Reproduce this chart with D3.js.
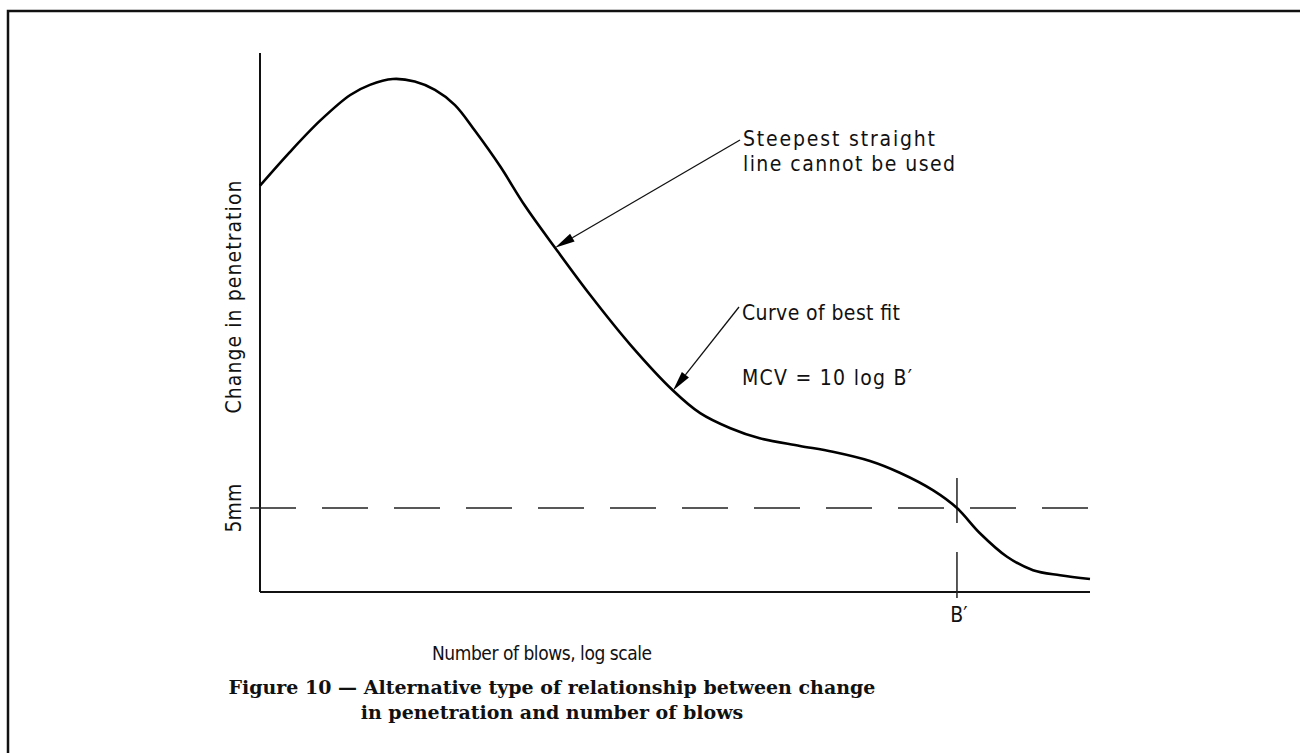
<!DOCTYPE html>
<html lang="en">

<head>
  <meta charset="UTF-8">
  <title>Figure 10</title>
  <script src="https://cdn.jsdelivr.net/npm/d3@7/dist/d3.min.js"></script>
  <style>
    body {
      margin: 0;
      background-color: #fff;
    }

    svg {
      display: block;
    }

    .tech {
      font-family: 'DejaVu Sans Condensed', 'DejaVu Sans', sans-serif;
      font-stretch: condensed;
      font-size: 21px;
      fill: #111;
    }

    .caption {
      font-family: 'DejaVu Serif', 'Liberation Serif', serif;
      font-weight: bold;
      font-size: 19px;
      fill: #111;
    }
  </style>
</head>

<body>
  <svg width="1300" height="753"></svg>
  <script>
    // curve of best fit (x is log scale)
    const blows = [1, 1.18, 1.4, 1.65, 1.84, 2.09, 2.36, 2.64, 2.95, 3.3, 3.79, 4.35, 5.14, 6.24,
      7.79, 9.89, 11.5, 13.6, 16.0, 20.0, 24.0, 29.5, 34.8, 41.9, 47.8, 54.3, 63.1, 72.9, 84.7, 100];
    const penetration = [24.2, 26.2, 28.1, 29.6, 30.2, 30.55, 30.4, 29.9, 29.0, 27.45, 25.35, 23.0, 20.5, 17.7,
      14.75, 12.0, 10.65, 9.75, 9.15, 8.7, 8.35, 7.8, 7.1, 6.05, 5.0, 3.5, 2.1, 1.3, 1.0, 0.77];

    const refPenetration = 5;      // mm
    const bPrime = 47.8;           // blows at 5 mm
    const xLabel = "Number of blows, log scale";
    const yLabel = "Change in penetration";
    const refLabel = "5mm";
    const bLabel = "B\u2032";
    const noteSteep = ["Steepest straight", "line cannot be used"];
    const noteFit = ["Curve of best fit"];
    const formula = "MCV = 10 log B\u2032";
    const steepIndex = 12;   // point the first arrow touches
    const fitIndex = 15;     // point the second arrow touches
    const captionLines = ["Figure 10 \u2014  Alternative type of relationship between change",
      "in penetration and number of blows"];

    const data = blows.map((b, i) => ({ b: b, p: penetration[i] }));

    const svg = d3.select("svg");

    const x = d3.scaleLog().domain([1, 100]).range([260, 1090]);
    const y = d3.scaleLinear().domain([0, 32.1]).range([592, 53]);

    // page frame
    svg.append("path")
      .attr("d", "M8,760V11H1310")
      .attr("fill", "none")
      .attr("stroke", "#111")
      .attr("stroke-width", 2.5);

    // axes
    svg.append("line")
      .attr("x1", x(1)).attr("x2", x(1))
      .attr("y1", y(32.1)).attr("y2", y(0))
      .attr("stroke", "#111").attr("stroke-width", 2);
    svg.append("line")
      .attr("x1", x(1)).attr("x2", x(100))
      .attr("y1", y(0)).attr("y2", y(0))
      .attr("stroke", "#111").attr("stroke-width", 2);

    // 5 mm dashed line
    svg.append("line")
      .attr("x1", x(1) - 10).attr("x2", x(100))
      .attr("y1", y(refPenetration)).attr("y2", y(refPenetration))
      .attr("stroke", "#222").attr("stroke-width", 1.5)
      .attr("stroke-dasharray", "46 26");

    // B' marker
    svg.append("line")
      .attr("x1", x(bPrime)).attr("x2", x(bPrime))
      .attr("y1", y(refPenetration) - 30).attr("y2", y(0) + 6)
      .attr("stroke", "#222").attr("stroke-width", 1.5)
      .attr("stroke-dasharray", "45 29 60");

    // curve
    const line = d3.line()
      .x(d => x(d.b))
      .y(d => y(d.p))
      .curve(d3.curveCatmullRom.alpha(0.5));

    svg.append("path")
      .datum(data)
      .attr("d", line)
      .attr("fill", "none")
      .attr("stroke", "#000")
      .attr("stroke-width", 2.6);

    // leader with arrow head
    function leader(x0, y0, target) {
      const tx = x(target.b), ty = y(target.p);
      const ang = Math.atan2(y0 - ty, x0 - tx);
      const len = 20, half = 4.5;
      const bx = tx + Math.cos(ang) * len, by = ty + Math.sin(ang) * len;
      const nx = -Math.sin(ang) * half, ny = Math.cos(ang) * half;

      svg.append("line")
        .attr("x1", x0).attr("y1", y0)
        .attr("x2", bx).attr("y2", by)
        .attr("stroke", "#111").attr("stroke-width", 1.3);

      svg.append("path")
        .attr("d", `M${tx},${ty}L${bx + nx},${by + ny}L${bx - nx},${by - ny}Z`)
        .attr("fill", "#000");
    }

    leader(740, 140, data[steepIndex]);
    leader(739, 307, data[fitIndex]);

    // notes
    svg.append("text").attr("class", "tech")
      .attr("x", 743).attr("y", 146)
      .attr("textLength", 192).attr("lengthAdjust", "spacing")
      .text(noteSteep[0]);
    svg.append("text").attr("class", "tech")
      .attr("x", 743).attr("y", 171)
      .attr("textLength", 212).attr("lengthAdjust", "spacing")
      .text(noteSteep[1]);
    svg.append("text").attr("class", "tech")
      .attr("x", 742).attr("y", 320)
      .attr("textLength", 158).attr("lengthAdjust", "spacing")
      .text(noteFit[0]);
    svg.append("text").attr("class", "tech")
      .attr("x", 742).attr("y", 385)
      .attr("textLength", 170).attr("lengthAdjust", "spacing")
      .text(formula);

    // axis labels
    svg.append("text").attr("class", "tech")
      .attr("transform", "translate(241,297) rotate(-90)")
      .attr("text-anchor", "middle")
      .attr("textLength", 233).attr("lengthAdjust", "spacing")
      .text(yLabel);
    svg.append("text").attr("class", "tech")
      .attr("transform", `translate(241,${y(refPenetration)}) rotate(-90)`)
      .attr("text-anchor", "middle")
      .text(refLabel);
    svg.append("text").attr("class", "tech")
      .attr("x", 542).attr("y", 660)
      .attr("text-anchor", "middle")
      .style("font-size", "19px")
      .attr("textLength", 220).attr("lengthAdjust", "spacing")
      .text(xLabel);
    svg.append("text").attr("class", "tech")
      .attr("x", x(bPrime) + 2).attr("y", 622)
      .attr("text-anchor", "middle")
      .text(bLabel);

    // caption
    svg.selectAll("text.caption")
      .data(captionLines)
      .join("text")
      .attr("class", "caption")
      .attr("x", 552)
      .attr("y", (d, i) => 694 + i * 25)
      .attr("text-anchor", "middle")
      .text(d => d);
  </script>
</body>

</html>
